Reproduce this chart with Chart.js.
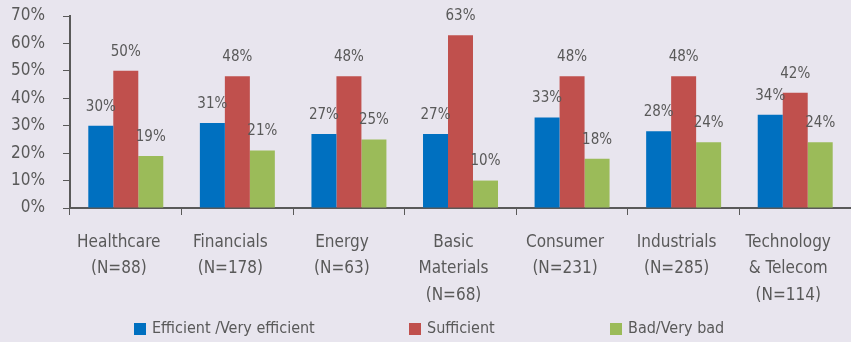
<!DOCTYPE html>
<html>
<head>
<meta charset="utf-8">
<script src="https://cdn.jsdelivr.net/npm/chart.js@4"></script>
<style>
  body { margin: 0; background: #e8e5ee; }
  #wrap { width: 851px; height: 342px; }
</style>
</head>
<body>
<div id="wrap"><canvas id="myChart" width="851" height="342"></canvas></div>
<script>
const sectors = [
  ["Healthcare", "(N=88)"],
  ["Financials", "(N=178)"],
  ["Energy", "(N=63)"],
  ["Basic", "Materials", "(N=68)"],
  ["Consumer", "(N=231)"],
  ["Industrials", "(N=285)"],
  ["Technology", "& Telecom", "(N=114)"],
];
const seriesNames = ["Efficient /Very efficient", "Sufficient", "Bad/Very bad"];
const efficient = [30, 31, 27, 27, 33, 28, 34];
const sufficient = [50, 48, 48, 63, 48, 48, 42];
const bad = [19, 21, 25, 10, 18, 24, 24];
const yMin = 0;
const yMax = 70;
const yStep = 10;

const fontFamily = "'DejaVu Sans Condensed', 'Liberation Sans Narrow', sans-serif";
const textColor = "#595959";
const colors = ["#0070c0", "#c0504d", "#9bbb59"];

// legend layout (left edge of each swatch, vertical centre of the row)
const legendX = [134, 409, 610];
const legendY = 329;

// draws the % value above each bar
const valueLabels = {
  id: "valueLabels",
  afterDatasetsDraw: function (chart) {
    const ctx = chart.ctx;
    ctx.save();
    ctx.font = "15px " + fontFamily;
    ctx.fillStyle = textColor;
    ctx.textAlign = "center";
    ctx.textBaseline = "middle";
    chart.data.datasets.forEach(function (ds, i) {
      chart.getDatasetMeta(i).data.forEach(function (bar, j) {
        ctx.fillText(ds.data[j] + "%", bar.x, bar.y - 19);
      });
    });
    ctx.restore();
  },
};

// legend spread out like the original (Chart.js padding also adds height)
const spreadLegend = {
  id: "spreadLegend",
  afterDraw: function (chart) {
    const ctx = chart.ctx;
    ctx.save();
    ctx.font = "16px " + fontFamily;
    ctx.textAlign = "left";
    ctx.textBaseline = "middle";
    chart.data.datasets.forEach(function (ds, i) {
      ctx.fillStyle = ds.backgroundColor;
      ctx.fillRect(legendX[i], legendY - 6, 12, 12);
      ctx.fillStyle = textColor;
      ctx.fillText(ds.label, legendX[i] + 18, legendY);
    });
    ctx.restore();
  },
};

const config = {
  type: "bar",
  data: {
    labels: sectors,
    datasets: [
      { label: seriesNames[0], data: efficient, backgroundColor: colors[0] },
      { label: seriesNames[1], data: sufficient, backgroundColor: colors[1] },
      { label: seriesNames[2], data: bad, backgroundColor: colors[2] },
    ],
  },
  options: {
    responsive: false,
    animation: false,
    devicePixelRatio: 1,
    layout: {
      padding: { top: 16, right: 0, bottom: 0, left: 0 },
    },
    datasets: {
      bar: {
        categoryPercentage: 0.672,
        barPercentage: 1,
        borderWidth: 0,
      },
    },
    scales: {
      x: {
        grid: {
          display: true,
          drawOnChartArea: false,
          drawTicks: true,
          tickLength: 7,
          color: textColor,
          lineWidth: 1,
        },
        border: { color: textColor, width: 2 },
        ticks: {
          color: textColor,
          padding: 14,
          labelOffset: -7,
          maxRotation: 0,
          autoSkip: false,
          font: { size: 17, family: fontFamily, lineHeight: 1.56 },
        },
        afterFit: function (scale) {
          scale.height = 134;
          scale.paddingLeft = 0;
          scale.paddingRight = 0;
        },
      },
      y: {
        min: yMin,
        max: yMax,
        grid: {
          display: true,
          drawOnChartArea: false,
          drawTicks: true,
          tickLength: 7,
          color: textColor,
          lineWidth: 1,
        },
        border: { color: textColor, width: 2 },
        ticks: {
          stepSize: yStep,
          autoSkip: false,
          color: textColor,
          padding: 18,
          font: { size: 17, family: fontFamily },
          callback: function (v) {
            return v + "%";
          },
        },
        afterFit: function (scale) {
          scale.width = 70;
          scale.paddingTop = 0;
          scale.paddingBottom = 0;
        },
      },
    },
    plugins: {
      legend: { display: false },
      tooltip: { enabled: false },
    },
  },
  plugins: [valueLabels, spreadLegend],
};

const ctx = document.getElementById("myChart");
const sectorChart = new Chart(ctx, config);
</script>
</body>
</html>
